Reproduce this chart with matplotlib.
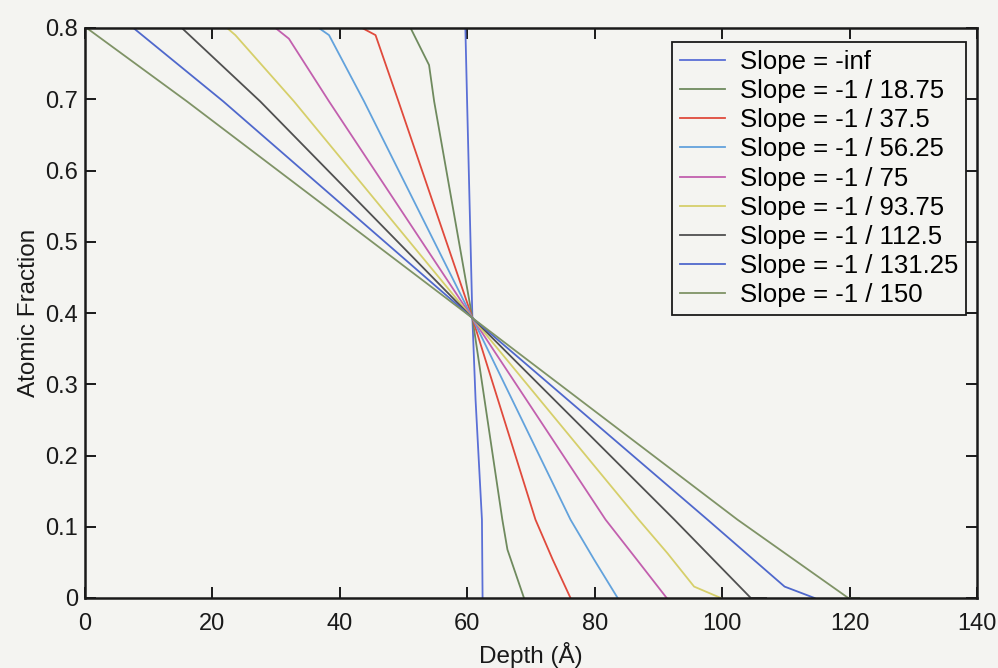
import matplotlib
matplotlib.use("Agg")
import matplotlib.pyplot as plt

# ---- data ----
labels = ["Slope = -inf", "Slope = -1 / 18.75", "Slope = -1 / 37.5",
          "Slope = -1 / 56.25", "Slope = -1 / 75", "Slope = -1 / 93.75",
          "Slope = -1 / 112.5", "Slope = -1 / 131.25", "Slope = -1 / 150"]

x_inf = [59.7, 59.97, 60.8, 61.3, 62.3, 62.4]
y_inf = [0.8, 0.697, 0.393, 0.278, 0.11, 0.0]

x_1875 = [51.1, 54.0, 54.8, 60.8, 65.5, 66.3, 68.9]
y_1875 = [0.8, 0.748, 0.697, 0.393, 0.11, 0.068, 0.0]

x_375 = [43.5, 45.6, 49.2, 60.8, 70.7, 73.4, 76.2]
y_375 = [0.8, 0.79, 0.697, 0.393, 0.11, 0.054, 0.0]

x_5625 = [36.7, 38.3, 43.8, 60.8, 76.2, 79.9, 83.6]
y_5625 = [0.8, 0.79, 0.697, 0.393, 0.11, 0.054, 0.0]

x_75 = [29.9, 32.0, 38.3, 60.8, 81.7, 86.6, 91.3]
y_75 = [0.8, 0.785, 0.697, 0.393, 0.11, 0.054, 0.0]

x_9375 = [22.3, 23.6, 32.8, 60.8, 86.9, 91.4, 95.6, 99.8]
y_9375 = [0.8, 0.79, 0.697, 0.393, 0.11, 0.063, 0.016, 0.0]

x_1125 = [15.2, 27.5, 60.8, 92.5, 104.5, 106.9]
y_1125 = [0.8, 0.697, 0.393, 0.11, 0.0, 0.0]

x_13125 = [7.6, 21.7, 60.8, 97.7, 109.8, 114.5]
y_13125 = [0.8, 0.697, 0.393, 0.11, 0.016, 0.0]

x_150 = [0.27, 16.0, 60.8, 102.4, 119.8, 121.5]
y_150 = [0.8, 0.697, 0.393, 0.11, 0.0, 0.0]

xs = [x_inf, x_1875, x_375, x_5625, x_75, x_9375, x_1125, x_13125, x_150]
ys = [y_inf, y_1875, y_375, y_5625, y_75, y_9375, y_1125, y_13125, y_150]

colors = ["#5a6fd6", "#6f8a5e", "#e04a3c", "#62a2dc", "#c25fae",
          "#d6cf6a", "#505050", "#4f68cc", "#7f9366"]

x_ticks = [0, 20, 40, 60, 80, 100, 120, 140]
x_ticklabels = ["0", "20", "40", "60", "80", "100", "120", "140"]
y_ticks = [0, 0.1, 0.2, 0.3, 0.4, 0.5, 0.6, 0.7, 0.8]
y_ticklabels = ["0", "0.1", "0.2", "0.3", "0.4", "0.5", "0.6", "0.7", "0.8"]

# ---- figure ----
plt.rcParams['font.family'] = ['Liberation Sans', 'DejaVu Sans']
bg = "#f4f4f1"
ink = "#1a1a1a"
fig = plt.figure(figsize=(9.98, 6.68), dpi=100, facecolor=bg)
ax = fig.add_axes([85/998, 70/668, 892/998, 570/668])
ax.set_facecolor(bg)

for x, y, c, lab in zip(xs, ys, colors, labels):
    ax.plot(x, y, color=c, lw=1.3, label=lab, zorder=2)

ax.set_xlim(0, 140)
ax.set_ylim(0, 0.8)
ax.set_xticks(x_ticks)
ax.set_xticklabels(x_ticklabels)
ax.set_yticks(y_ticks)
ax.set_yticklabels(y_ticklabels)
ax.tick_params(direction='in', length=8, width=1.4, top=True, right=True,
               labelsize=17, colors=ink)
ax.tick_params(axis='x', pad=11)
ax.tick_params(axis='y', pad=5)
for s in ax.spines.values():
    s.set_linewidth(1.8)
    s.set_color(ink)
    s.set_zorder(3)

ax.set_xlabel("Depth (Å)", fontsize=17.5, labelpad=5, color=ink)
ax.set_ylabel("Atomic Fraction", fontsize=17.5, labelpad=4, color=ink)

leg = ax.legend(loc='upper right', bbox_to_anchor=(0.988, 0.975), fontsize=18.5,
                frameon=True, fancybox=False, edgecolor=ink,
                facecolor=bg, framealpha=1, handlelength=1.75, handletextpad=0.6,
                labelspacing=0.2, borderpad=0.3, borderaxespad=0)
leg.get_frame().set_linewidth(1.3)

fig.savefig("out.png", dpi=100, facecolor=bg)
